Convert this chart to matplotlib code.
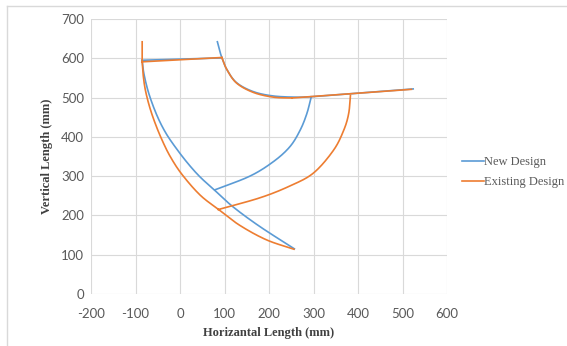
import numpy as np
import matplotlib.pyplot as plt
from matplotlib.lines import Line2D

plt.rcParams['axes.unicode_minus'] = False

nan = np.nan

# New Design (blue), pieces separated by nan
new_x = [84, 89, 94, 105, 127, 165, 210, 262, 294, nan,
         294, 524, nan,
         295, 285, 270, 247, 210, 157, 78, nan,
         -85, 94, nan,
         -85, -81, -70, -52, -32, -8, 18, 45, 78, 119, 179, 257]
new_y = [642, 620, 602, 572, 538, 515, 504, 501, 502, nan,
         502, 522, nan,
         502, 459, 417, 375, 337, 300, 265, nan,
         595, 601, nan,
         595, 560, 510, 455, 410, 370, 332, 298, 264, 222, 172, 115]

# Existing Design (orange)
old_x = [-85, -85, nan,
         -85, 94, nan,
         94, 105, 127, 165, 210, 252, nan,
         252, 520, nan,
         383, 379, 368, 345, 300, 247, 180, 86, nan,
         -85, -83, -78, -68, -55, -40, -22, 4, 45, 88, 134, 194, 256]
old_y = [642, 591, nan,
         591, 602, nan,
         602, 572, 537, 513, 501, 499, nan,
         499, 521, nan,
         505, 459, 417, 366, 308, 275, 245, 215, nan,
         591, 560, 520, 475, 432, 391, 350, 305, 252, 214, 175, 138, 114]

x_ticks = [-200, -100, 0, 100, 200, 300, 400, 500, 600]
y_ticks = [0, 100, 200, 300, 400, 500, 600, 700]


def smooth(xs, ys, n=24):
    # draw each piece as a smoothed line (like Excel's smoothed scatter line)
    xs = np.asarray(xs, float)
    ys = np.asarray(ys, float)
    breaks = np.where(np.isnan(xs))[0]
    starts = np.r_[0, breaks + 1]
    ends = np.r_[breaks, len(xs)]
    ox, oy = [], []
    for a, b in zip(starts, ends):
        p = np.column_stack([xs[a:b], ys[a:b]])
        if len(p) < 3:
            seg = p
        else:
            q = np.vstack([2 * p[0] - p[1], p, 2 * p[-1] - p[-2]])
            t = np.linspace(0, 1, n, endpoint=False)[:, None]
            parts = []
            for i in range(1, len(q) - 2):
                p0, p1, p2, p3 = q[i - 1], q[i], q[i + 1], q[i + 2]
                parts.append(0.5 * (2 * p1 + (p2 - p0) * t
                                    + (2 * p0 - 5 * p1 + 4 * p2 - p3) * t ** 2
                                    + (3 * p1 - p0 - 3 * p2 + p3) * t ** 3))
            parts.append(p[-1:])
            seg = np.vstack(parts)
        ox += list(seg[:, 0]) + [nan]
        oy += list(seg[:, 1]) + [nan]
    return ox, oy


W, H = 567, 346
fig = plt.figure(figsize=(W / 100, H / 100), dpi=100)
ax = fig.add_axes([91 / W, 1 - 294 / H, (447 - 91) / W, (294 - 19) / H])

grid_c = '#d9d9d9'
text_c = '#595959'

sx, sy = smooth(new_x, new_y)
l1, = ax.plot(sx, sy, color='#5B9BD5', lw=1.2, label='New Design')
sx, sy = smooth(old_x, old_y)
l2, = ax.plot(sx, sy, color='#ED7D31', lw=1.2, label='Existing Design')

ax.set_xlim(-200, 600)
ax.set_ylim(0, 700)
ax.set_xticks(x_ticks)
ax.set_yticks(y_ticks)
ax.grid(True, color=grid_c, lw=0.8)
ax.set_axisbelow(True)
for s in ax.spines.values():
    s.set_visible(False)
ax.tick_params(length=0, labelsize=9.5, labelcolor=text_c)
ax.tick_params(axis='y', pad=5)
ax.tick_params(axis='x', pad=10)
for lab in ax.get_xticklabels() + ax.get_yticklabels():
    lab.set_family('Lato')

ax.set_xlabel('Horizantal Length (mm)', family='Liberation Serif', fontweight='bold',
              fontsize=9, color='#404040', labelpad=5)
ax.set_ylabel('Vertical Length (mm)', family='Liberation Serif', fontweight='bold',
              fontsize=9, color='#404040', labelpad=6)

fig.legend(handles=[l1, l2], loc='center left', bbox_to_anchor=(456 / W, 1 - 172 / H),
           frameon=False, borderpad=0, handletextpad=0, handlelength=1.7,
           labelspacing=0.65, prop={'family': 'Liberation Serif', 'size': 9},
           labelcolor=text_c)

# outer frame of the picture
fig.add_artist(Line2D([7 / W, 7 / W], [0, 1 - 6 / H], color=grid_c, lw=1))
fig.add_artist(Line2D([7 / W, 1], [1 - 6 / H, 1 - 6 / H], color=grid_c, lw=1))

fig.savefig('out.png', dpi=100)
